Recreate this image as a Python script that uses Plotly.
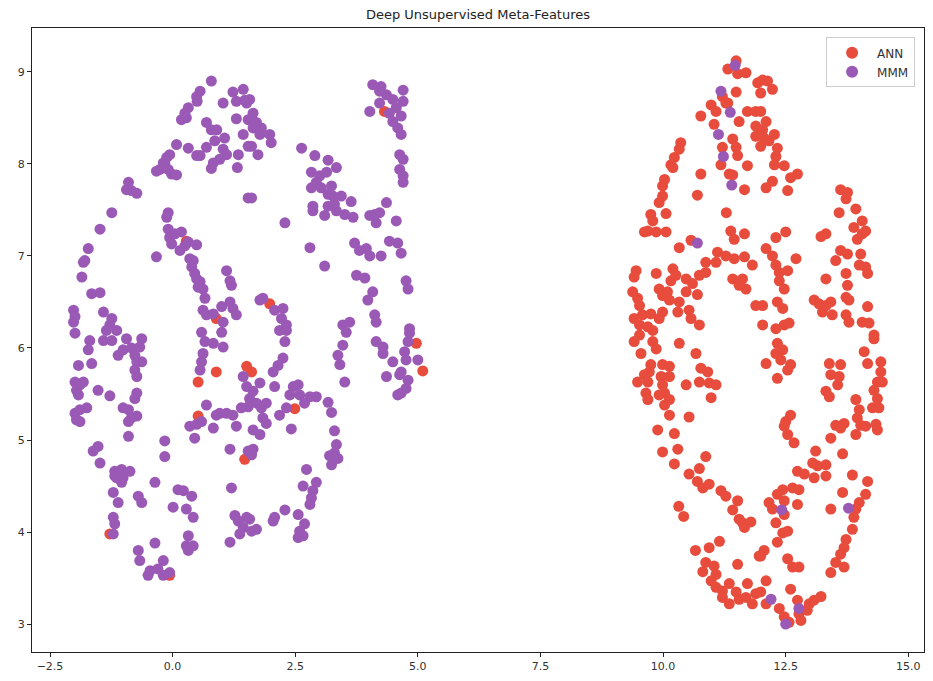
import plotly.graph_objects as go

# ---- data ----
ann_x = [
    # stray ANN points inside the left (MMM) cluster
    0.28, 0.89, 1.98, 4.32, 0.52, 0.89, 1.51, 0.52, 1.47, -1.28, -0.06, 4.97, 5.10, 1.61, 2.49,
    # right cluster, upper-left part
    11.49, 11.32, 11.52, 11.69, 11.49, 10.98, 11.08, 11.28, 11.21, 11.32, 11.72, 11.89, 11.55, 10.77,
    11.04, 11.42, 11.21, 11.49, 11.52, 11.89, 11.93, 11.89, 11.18, 11.35, 11.42, 11.72, 10.77, 11.66,
    10.70, 10.36, 10.33, 10.23, 10.16, 10.20, 10.03, 9.99, 9.99, 9.92, 9.75, 9.79, 10.06, 9.69, 9.62,
    9.86, 10.06, 11.29, 11.38, 11.45, 11.66, 10.57, 10.33, 11.11, 11.28, 11.45, 11.66, 11.82, 10.87,
    11.08, 9.45, 9.41, 9.86, 10.20, 10.26, 10.16, 10.47, 10.74, 10.87, 10.60, 9.38, 9.48, 9.52, 9.92,
    9.99, 10.09, 10.13, 10.47, 10.70, 10.33, 10.30, 10.53, 10.57, 10.74, 11.42, 11.62, 11.69, 11.55,
    9.41, 9.58, 9.75, 9.52, 9.69, 9.99, 9.92, 9.79, 9.52, 11.89,
    # right cluster, upper-right part
    12.03, 12.13, 12.23, 11.99, 11.99, 12.10, 12.03, 12.06, 11.99, 12.27, 12.16, 12.33, 12.30, 12.27,
    12.47, 12.23, 12.10, 12.60, 12.74, 12.54, 13.62, 13.76, 13.73, 13.59, 13.93, 14.06, 13.89, 14.13,
    13.96, 14.06, 13.32, 13.22, 13.62, 13.76, 13.52, 14.03, 14.00, 14.13, 14.17, 13.32, 13.73, 13.76,
    13.79, 13.73, 13.08, 13.18, 13.32, 13.42, 13.25, 13.45, 13.73, 13.79, 14.17, 14.06, 14.20, 14.30,
    12.50, 12.30, 12.10, 12.23, 12.71, 12.30, 12.37, 12.54, 12.37, 12.47, 12.33, 12.44, 12.03, 12.03,
    12.30, 12.47, 12.57,
    # right cluster, lower-left part
    9.41, 9.79, 9.86, 10.33, 9.55, 10.67, 9.75, 9.99, 10.13, 9.72, 9.62, 9.48, 9.69, 9.96, 10.13, 9.99,
    9.92, 10.03, 10.13, 10.03, 9.65, 9.69, 10.47, 10.13, 10.77, 10.91, 10.74, 10.94, 11.08, 10.98,
    10.53, 9.89, 10.23, 9.99, 10.30, 10.23, 10.87, 10.74, 10.53, 10.70, 10.81, 10.94, 11.18, 11.28,
    11.52, 11.42, 10.32, 10.42, 11.55, 11.62, 11.79, 11.66, 10.66, 10.94, 11.15, 11.52, 10.87, 11.04,
    10.81, 11.08, 10.98, 11.08, 11.21, 11.35, 11.21, 11.35, 11.49, 11.55, 11.72, 11.69, 11.89, 11.82,
    11.96,
    # right cluster, lower-right part
    12.33, 12.44, 12.30, 12.40, 12.60, 12.54, 12.10, 12.33, 14.30, 14.10, 14.17, 14.44, 14.44, 14.37,
    14.47, 14.30, 14.37, 14.27, 14.40, 13.93, 14.00, 13.39, 13.62, 13.42, 13.59, 13.56, 13.32, 13.39,
    12.60, 12.50, 12.47, 12.54, 12.67, 13.52, 13.69, 13.62, 13.96, 14.03, 14.13, 14.34, 14.37, 13.93,
    13.42, 13.66, 13.11, 13.05, 13.15, 13.32, 12.74, 12.88, 13.08, 13.32, 13.86, 14.17, 14.13, 12.64,
    12.77, 12.44, 12.33, 12.47, 12.16, 12.23, 12.74, 12.47, 13.66, 13.42, 14.00, 13.93, 13.89, 13.86,
    13.73, 13.69, 13.62, 13.52, 13.69, 13.42, 12.30, 12.44, 12.54, 12.33, 12.06, 11.99, 12.54, 12.64,
    12.77, 12.10, 11.99, 12.60, 12.10, 12.37, 12.47, 12.57, 12.74, 12.77, 12.81, 12.98, 13.08, 13.22,
    12.94,
]
ann_y = [
    7.16, 6.32, 6.48, 8.57, 5.63, 5.74, 5.80, 5.26, 4.79, 3.98, 3.53, 6.05, 5.75, 5.74, 5.34,
    9.12, 9.03, 8.98, 8.99, 8.78, 8.64, 8.57, 8.66, 8.73, 8.66, 8.57, 8.57, 8.46, 8.52,
    8.43, 8.27, 8.18, 8.18, 8.09, 8.41, 8.88, 8.30, 7.99, 7.89, 7.88, 7.98, 7.89, 7.72,
    7.66, 8.23, 8.16, 8.07, 7.99, 7.96, 7.83, 7.76, 7.65, 7.58, 7.45, 7.38, 7.46, 7.27, 7.26,
    7.26, 7.26, 7.47, 7.27, 7.18, 7.24, 7.17, 7.09, 7.04, 7.00, 6.97, 6.99, 6.90, 6.93,
    6.93, 6.84, 6.77, 6.81, 6.86, 6.79, 6.73, 6.75, 6.79, 6.82, 6.70, 6.61, 6.54, 6.46, 6.64,
    6.57, 6.61, 6.52, 6.61, 6.58, 6.50, 6.39, 6.41, 6.32, 6.25, 6.75, 6.75, 6.64, 6.68,
    6.32, 6.36, 6.37, 6.25, 6.23, 6.39, 6.32, 6.19, 6.14, 6.46,
    8.91, 8.90, 8.81, 8.77, 8.57, 8.46, 8.37, 8.28, 8.19, 8.32, 8.25, 8.17, 8.08, 7.99,
    7.98, 7.81, 7.74, 7.85, 7.89, 7.71, 7.72, 7.69, 7.62, 7.47, 7.51, 7.38, 7.31, 7.27,
    7.18, 7.24, 7.24, 7.21, 7.06, 7.02, 6.95, 7.02, 6.90, 6.88, 6.81, 6.75, 6.81, 6.68,
    6.52, 6.55, 6.52, 6.48, 6.46, 6.50, 6.39, 6.36, 6.36, 6.28, 6.45, 6.28, 6.27, 6.14,
    7.26, 7.20, 7.08, 7.00, 6.97, 6.90, 6.82, 6.84, 6.73, 6.64, 6.50, 6.43, 6.46, 6.25,
    6.21, 6.25, 6.27,
    6.07, 6.07, 5.99, 6.05, 5.94, 5.94, 5.82, 5.82, 5.80, 5.74, 5.71, 5.63, 5.63, 5.69, 5.69, 5.60,
    5.49, 5.51, 5.44, 5.38, 5.51, 5.44, 5.60, 5.27, 5.78, 5.74, 5.63, 5.62, 5.60, 5.46,
    5.25, 5.11, 5.07, 4.87, 4.90, 4.74, 4.82, 4.69, 4.63, 4.55, 4.48, 4.52, 4.45, 4.39,
    4.34, 4.24, 4.28, 4.17, 4.14, 4.10, 4.11, 4.05, 3.80, 3.83, 3.90, 3.65, 3.67, 3.63,
    3.57, 3.54, 3.47, 3.40, 3.36, 3.44, 3.29, 3.22, 3.35, 3.27, 3.44, 3.29, 3.33, 3.22,
    3.74,
    6.05, 5.98, 5.94, 5.87, 5.82, 5.76, 5.83, 5.67, 6.10, 5.96, 5.83, 5.85, 5.74, 5.63,
    5.63, 5.54, 5.45, 5.35, 5.35, 5.44, 5.33, 5.83, 5.82, 5.71, 5.69, 5.60, 5.53, 5.47,
    5.27, 5.20, 5.15, 5.06, 4.97, 5.16, 5.18, 5.13, 5.24, 5.16, 5.15, 5.17, 5.11, 5.06,
    5.02, 4.85, 4.88, 4.75, 4.72, 4.73, 4.66, 4.63, 4.59, 4.61, 4.62, 4.55, 4.41, 4.48,
    4.46, 4.46, 4.41, 4.34, 4.32, 4.25, 4.30, 4.19, 4.43, 4.25, 4.32, 4.25, 4.16, 4.03,
    3.92, 3.83, 3.76, 3.67, 3.62, 3.56, 4.10, 3.99, 4.01, 3.89, 3.80, 3.74, 3.71, 3.62,
    3.62, 3.47, 3.35, 3.38, 3.22, 3.17, 3.08, 3.02, 3.26, 3.11, 3.04, 3.22, 3.26, 3.30,
    3.15,
]

mmm_x = [
    # left cluster, upper-left
    0.79, 0.56, 0.49, 0.50, 1.23, 1.44, 1.03, 1.30, 1.47, 1.51, 0.32, 0.25, 0.18, 0.28, 0.69, 0.79,
    0.90, 1.30, 1.44, 1.54, 1.06, 0.86, 0.69, 0.56, 0.49, 0.32, 0.08, 1.03, 1.10, 0.96, 0.83, 0.79,
    1.34, 1.32, 1.54, -0.06, -0.12, -0.19, -0.26, -0.33, -0.09, -0.02, 0.08, -0.16, -0.90, -0.94,
    -0.73, -0.84, 1.54, -1.24, -1.48, -1.72, -1.79, -1.82, -1.85, -0.09, -0.12, -0.09, -0.06, 0.05,
    0.18, -0.02, 0.15, 0.25, 0.49, 0.32, -0.33, 0.35, 0.42, 0.39, 0.45, 0.49, 0.56, 0.52, 0.62, 0.66,
    1.10, 1.17, 1.20, -1.65, -1.48, -2.02, -1.99, -2.02, -1.41, -1.24, -1.28, 0.62, 0.69, 0.83, 1.00,
    1.17, 1.23, 1.30, 1.03,
    # left cluster, upper-right
    1.57, 1.64, 1.71, 1.81, 1.78, 1.64, 1.98, 2.01, 1.61, 1.74, 1.61, 2.63, 2.90, 3.17, 3.34, 2.83,
    3.00, 3.14, 2.93, 2.83, 3.03, 3.24, 3.17, 3.27, 3.44, 3.64, 2.86, 2.86, 3.17, 3.30, 3.34, 3.10,
    3.51, 3.68, 4.02, 4.12, 4.22, 4.15, 4.36, 4.56, 2.29, 4.08, 4.25, 4.22, 4.36, 4.49, 4.70, 4.70,
    4.22, 4.56, 4.42, 4.66, 4.49, 4.59, 4.66, 4.02, 4.63, 4.70, 4.63, 4.70, 4.70, 2.80, 3.10, 3.71,
    3.81, 3.95, 4.02, 4.25, 4.42, 4.59, 4.66, 3.75, 3.92, 4.76, 4.80, 4.08, 3.98, 1.84, 1.78, 2.08,
    2.25, 2.22, 2.32, 3.61, 3.47, 4.12, 4.15, 4.83,
    # left cluster, lower-left
    -1.99, -1.69, -1.35, -1.14, -1.41, -1.24, -0.94, -0.63, -0.84, -0.67, -1.01, -1.11, -0.77, -0.73,
    -0.63, -0.77, -0.73, -1.72, -1.92, -1.65, -1.99, -1.82, -1.96, -1.92, -1.89, -1.52, -1.28, -0.73,
    -0.77, -1.99, -1.89, -1.75, -1.96, -1.89, -1.01, -0.90, -0.84, -0.73, -0.90, 0.59, 1.00, 0.66,
    0.83, 1.03, 0.62, 0.59, 0.56, 1.44, 1.51, 0.69, 0.59, 0.49, 0.35, 0.89, 0.96, 1.10, 1.23, 1.40,
    1.54, 0.83, 1.30, 0.45, -0.90, -0.16, -0.16, -1.52, -1.62, -1.48, 1.17, 1.54, -1.18, -1.04,
    -0.87, -1.14, -1.04, -1.18, -1.01, -0.36, -1.21, -1.11, -0.70, -0.63, 0.11, 0.22, 0.39, 0.01,
    0.28, 0.42, 1.20, 1.27, 1.34, 1.44, 1.37, 1.51, -1.21, -1.18, -1.21, -0.36, 0.32, 0.28, 0.42,
    0.32, 1.17, -0.70, -0.67, -0.46, -0.50, -0.30, -0.19, -0.06, -0.19,
    # left cluster, lower-right
    2.18, 2.32, 2.29, 3.54, 3.47, 3.37, 3.41, 3.51, 4.15, 4.29, 4.29, 4.83, 4.80, 4.73, 4.76, 5.00,
    4.49, 4.66, 4.36, 4.63, 4.80, 4.76, 4.66, 4.59, 2.25, 2.15, 2.05, 1.78, 1.64, 2.08, 1.57, 1.71,
    1.91, 1.81, 2.46, 2.56, 2.39, 2.59, 2.80, 2.93, 2.69, 2.32, 2.18, 3.17, 3.24, 1.84, 1.91, 1.64,
    1.78, 2.42, 3.30, 1.64, 1.61, 3.34, 3.30, 3.20, 3.37, 3.24, 2.73, 2.93, 2.66, 2.86, 2.83, 2.80,
    2.29, 2.08, 2.05, 2.56, 2.69, 2.59, 2.56, 2.66, 1.57, 1.71, 1.61,
    # stray MMM points inside the right (ANN) cluster
    11.47, 11.18, 11.37, 11.13, 11.23, 11.40, 10.70, 12.42, 13.78, 12.20, 12.50, 12.77,
]
mmm_y = [
    8.90, 8.79, 8.73, 8.68, 8.78, 8.81, 8.66, 8.68, 8.69, 8.66, 8.61, 8.55, 8.48, 8.50, 8.45, 8.37,
    8.37, 8.49, 8.32, 8.48, 8.28, 8.25, 8.18, 8.09, 8.09, 8.17, 8.21, 8.16, 8.10, 8.05, 8.01, 7.95,
    8.10, 7.96, 8.19, 8.10, 8.07, 8.01, 7.94, 7.92, 7.94, 7.89, 7.88, 8.00, 7.80, 7.72,
    7.68, 7.71, 7.63, 7.47, 7.29, 7.08, 6.95, 6.93, 6.77, 7.47, 7.42, 7.29, 7.20, 7.24,
    7.26, 7.13, 7.06, 7.11, 7.12, 7.15, 6.99, 6.97, 6.95, 6.88, 6.81, 6.75, 6.72, 6.66, 6.64, 6.54,
    6.84, 6.73, 6.68, 6.59, 6.60, 6.41, 6.34, 6.28, 6.39, 6.32, 6.25, 6.41, 6.36, 6.37, 6.45,
    6.50, 6.43, 6.36, 6.28,
    8.70, 8.55, 8.45, 8.39, 8.32, 8.39, 8.32, 8.23, 8.19, 8.10, 7.63, 8.17, 8.09, 8.04, 7.96, 7.91,
    7.87, 7.91, 7.80, 7.74, 7.74, 7.76, 7.67, 7.65, 7.65, 7.59, 7.54, 7.49, 7.54, 7.56, 7.49, 7.44,
    7.45, 7.42, 7.44, 7.45, 7.47, 7.36, 7.58, 7.38, 7.36, 8.86, 8.84, 8.79, 8.75, 8.70, 8.80, 8.68,
    8.66, 8.61, 8.55, 8.52, 8.46, 8.39, 8.32, 8.57, 8.10, 8.05, 7.94, 7.87, 7.80, 7.09, 6.89, 7.14,
    7.06, 7.08, 7.00, 7.00, 7.16, 7.14, 7.03, 6.79, 6.76, 6.73, 6.64, 6.61, 6.52, 6.54, 6.52, 6.41,
    6.43, 6.32, 6.25, 6.28, 6.25, 6.36, 6.28, 6.21,
    6.16, 6.08, 6.19, 6.19, 6.08, 6.08, 6.10, 6.10, 6.00, 6.01, 5.98, 5.92, 5.92, 5.85,
    5.85, 5.76, 5.69, 5.98, 5.81, 5.83, 5.63, 5.63, 5.54, 5.49, 5.60, 5.54, 5.48, 5.51,
    5.45, 5.29, 5.33, 5.35, 5.22, 5.20, 5.35, 5.33, 5.24, 5.26, 5.20, 6.17, 6.17, 6.07,
    6.05, 6.01, 5.94, 5.85, 5.76, 5.69, 5.58, 5.38, 5.20, 5.17, 5.15, 5.27, 5.29, 5.29, 5.27, 5.35,
    5.36, 5.13, 5.15, 5.02, 5.04, 4.99, 4.82, 4.93, 4.88, 4.75, 4.90, 4.88, 4.66, 4.68,
    4.66, 4.59, 4.54, 4.61, 4.59, 4.54, 4.43, 4.32, 4.39, 4.32, 4.46, 4.45, 4.39, 4.27,
    4.25, 4.16, 4.48, 4.18, 4.12, 4.05, 3.98, 4.16, 4.16, 4.09, 3.98, 3.88, 3.96, 3.85, 3.85,
    3.80, 3.89, 3.80, 3.69, 3.58, 3.53, 3.60, 3.69, 3.56, 3.53,
    6.19, 6.19, 6.07, 6.17, 6.03, 5.92, 5.82, 5.63, 6.07, 6.01, 5.94, 6.16, 6.07, 5.96, 5.87, 5.87,
    5.85, 5.74, 5.69, 5.71, 5.65, 5.56, 5.51, 5.49, 5.89, 5.81, 5.74, 5.62, 5.53, 5.58, 5.45, 5.40,
    5.40, 5.35, 5.58, 5.60, 5.49, 5.49, 5.47, 5.47, 5.40, 5.35, 5.27, 5.41, 5.30, 5.24, 5.18, 5.11,
    5.06, 5.12, 5.10, 4.90, 4.84, 4.95, 4.86, 4.83, 4.80, 4.73, 4.68, 4.54, 4.50, 4.45, 4.37, 4.30,
    4.24, 4.16, 4.12, 4.19, 4.09, 4.01, 3.94, 3.96, 4.14, 4.03, 4.01,
    9.07, 8.79, 8.56, 8.32, 8.08, 7.77, 7.14, 4.24, 4.26, 3.27, 3.00, 3.17,
]

series_names = ["ANN", "MMM"]
series_colors = ["#e74c3c", "#9b59b6"]
x_ticks = [-2.5, 0.0, 2.5, 5.0, 7.5, 10.0, 12.5, 15.0]
y_ticks = [3, 4, 5, 6, 7, 8, 9]
title_text = "Deep Unsupervised Meta-Features"

fig = go.Figure()
for name, xs, ys, col in [(series_names[0], ann_x, ann_y, series_colors[0]),
                          (series_names[1], mmm_x, mmm_y, series_colors[1])]:
    fig.add_trace(go.Scatter(
        x=xs, y=ys, mode="markers", name=name,
        marker=dict(color=col, size=11, line=dict(width=0)),
    ))

axis_common = dict(
    showgrid=False, zeroline=False, showline=True, linecolor="#222", linewidth=1,
    mirror=True, ticks="outside", ticklen=4, tickcolor="#222", tickwidth=1,
    tickfont=dict(family="DejaVu Sans", size=11, color="#333"),
)

fig.update_layout(
    width=933, height=681,
    margin=dict(l=32, r=8, t=28, b=26),
    paper_bgcolor="white", plot_bgcolor="white",
    title=dict(text=title_text, x=0.5, xref="paper", y=1 - 14 / 681, yref="container",
               xanchor="center", yanchor="middle",
               font=dict(family="DejaVu Sans", size=13, color="#222")),
    xaxis=dict(range=[-2.867, 15.32], tickvals=x_ticks,
               ticktext=["\u22122.5", "0.0", "2.5", "5.0", "7.5", "10.0", "12.5", "15.0"],
               **axis_common),
    yaxis=dict(range=[2.697, 9.476], tickvals=y_ticks, **axis_common),
    legend=dict(x=0.99, y=0.985, xanchor="right", yanchor="top",
                bgcolor="white", bordercolor="#cccccc", borderwidth=1,
                font=dict(family="DejaVu Sans", size=12, color="#333"),
                itemsizing="constant", itemwidth=40),
    showlegend=True,
)

fig.write_html("out.html")
